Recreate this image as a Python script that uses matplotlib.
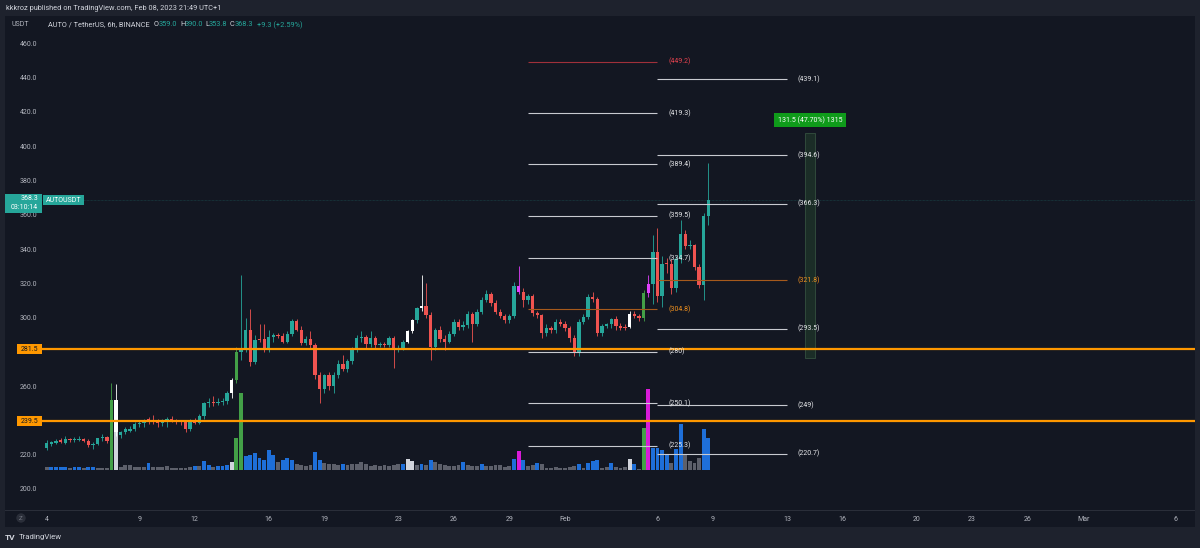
import numpy as np
import matplotlib
matplotlib.use("Agg")
from matplotlib import pyplot as plt
from matplotlib.patches import Rectangle

plt.rcParams['font.family'] = ['Roboto', 'DejaVu Sans']

# AUTO / USDT, 6h candles from Jan 4 2023 (day 4.0 = Jan 4 00:00, Feb 1 = day 32)
start_day = 4.0
step = 0.25

opens = [224.0, 226.0, 227.0, 228.5, 227.0, 229.0, 228.5, 228.8, 229.2, 228.0,
         225.5, 226.5, 229.5, 230.5, 228.0, 252.0, 231.5, 233.0, 234.0, 235.0,
         238.0, 238.5, 240.5, 240.5, 239.5, 238.5, 239.5, 241.0, 240.0, 239.5,
         239.0, 235.0, 240.0, 238.5, 242.5, 250.0, 250.5, 250.0, 251.0, 251.5,
         256.0, 263.5, 280.0, 282.0, 292.7, 274.0, 287.5, 287.5, 281.6, 288.5,
         290.0, 289.0, 286.0, 290.5, 298.0, 293.0, 285.0, 287.5, 284.0, 266.5,
         258.3, 266.5, 260.0, 266.5, 272.8, 270.0, 274.6, 281.0, 288.0, 288.5,
         284.5, 288.0, 284.0, 284.5, 284.0, 288.0, 281.6, 282.5, 285.7, 292.0,
         298.3, 305.5, 306.5, 301.5, 282.8, 293.0, 287.5, 286.0, 290.5, 297.5,
         294.5, 295.5, 302.0, 296.5, 303.0, 310.0, 313.5, 308.7, 303.5, 301.0,
         298.5, 301.0, 318.5, 315.0, 310.0, 312.5, 302.6, 301.5, 291.0, 294.0,
         292.5, 297.5, 296.5, 294.0, 288.0, 279.3, 297.5, 300.5, 312.0, 311.0,
         291.0, 295.0, 296.0, 299.3, 295.0, 294.0, 294.5, 302.0, 301.0, 300.0,
         314.6, 319.6, 338.0, 312.5, 331.5, 331.0, 317.0, 334.0, 349.0, 342.0,
         342.5, 329.5, 319.0, 359.0]
highs = [228.5, 228.0, 229.0, 230.0, 231.0, 230.0, 230.5, 231.0, 230.0, 229.0,
         227.5, 230.0, 232.0, 231.0, 262.0, 261.0, 234.0, 236.0, 236.5, 239.0,
         239.5, 241.0, 242.0, 243.0, 241.0, 241.0, 242.0, 242.5, 241.0, 240.5,
         240.0, 241.0, 241.5, 244.0, 251.0, 253.0, 254.0, 253.0, 253.0, 257.0,
         265.0, 283.0, 325.0, 300.0, 305.0, 290.0, 296.0, 296.0, 293.0, 291.0,
         291.0, 291.0, 292.0, 299.0, 299.0, 295.0, 289.0, 292.0, 285.0, 268.0,
         267.0, 268.0, 268.0, 275.0, 278.0, 276.0, 283.0, 290.0, 292.0, 290.0,
         292.0, 289.0, 286.0, 286.0, 289.0, 289.0, 284.0, 287.0, 293.0, 299.0,
         306.0, 325.0, 320.0, 303.0, 294.0, 295.0, 290.0, 292.0, 299.0, 299.0,
         298.0, 304.0, 303.0, 305.0, 312.0, 316.0, 315.0, 310.0, 305.0, 302.0,
         302.0, 321.0, 330.0, 317.0, 314.0, 314.0, 304.0, 302.0, 296.0, 295.0,
         299.0, 299.0, 298.0, 295.0, 290.0, 299.0, 302.0, 314.0, 315.0, 312.0,
         296.0, 297.0, 300.0, 301.0, 297.0, 296.0, 304.0, 304.0, 302.0, 316.0,
         325.0, 348.0, 352.0, 336.0, 335.0, 334.0, 336.0, 357.0, 351.0, 345.0,
         343.0, 331.0, 361.0, 390.0]
lows = [223.0, 225.0, 226.0, 227.0, 226.5, 227.5, 227.5, 228.0, 227.5, 224.5,
        223.5, 225.5, 228.0, 227.0, 227.0, 231.0, 230.0, 232.0, 233.0, 234.0,
        236.0, 236.0, 238.0, 238.0, 236.0, 237.0, 236.0, 239.0, 238.0, 237.5,
        233.5, 234.0, 238.0, 238.0, 241.0, 248.0, 248.5, 249.0, 249.0, 249.5,
        253.0, 262.0, 275.0, 280.0, 272.0, 273.0, 285.5, 280.0, 280.0, 286.0,
        288.0, 285.0, 285.0, 289.0, 292.0, 284.0, 284.0, 282.0, 264.0, 250.0,
        256.0, 258.0, 256.0, 265.0, 269.0, 268.0, 273.0, 280.0, 286.0, 282.0,
        283.0, 282.0, 283.0, 283.0, 283.0, 270.5, 280.0, 281.0, 285.0, 291.0,
        297.0, 304.0, 300.0, 275.0, 281.0, 286.0, 281.0, 285.0, 289.0, 293.0,
        293.0, 294.0, 285.7, 295.0, 302.0, 309.0, 307.0, 302.0, 300.0, 297.0,
        297.0, 300.0, 314.0, 306.0, 308.0, 301.0, 300.0, 288.0, 289.0, 291.0,
        291.0, 295.0, 292.0, 286.0, 277.5, 277.5, 296.0, 299.0, 309.0, 289.0,
        289.0, 294.0, 294.0, 293.0, 293.0, 293.0, 294.0, 300.0, 298.0, 298.0,
        312.0, 308.0, 309.0, 306.0, 326.0, 314.0, 315.0, 332.0, 340.0, 340.0,
        328.0, 317.0, 310.0, 353.8]
closes = [227.0, 227.5, 228.0, 227.5, 229.0, 228.5, 228.8, 229.2, 228.0, 225.5,
          226.5, 229.5, 230.5, 228.0, 252.0, 233.0, 233.0, 235.0, 235.0, 238.0,
          238.5, 240.5, 240.0, 239.0, 238.5, 240.0, 241.0, 240.0, 239.5, 239.0,
          235.0, 240.0, 238.5, 242.5, 250.0, 250.5, 250.0, 251.0, 251.5, 256.0,
          263.5, 280.0, 282.0, 292.7, 274.0, 287.0, 287.0, 281.6, 288.5, 290.0,
          289.0, 286.0, 290.5, 298.0, 293.0, 285.0, 287.5, 284.0, 266.5, 258.3,
          266.5, 260.0, 266.5, 272.8, 270.0, 274.6, 281.0, 288.0, 288.5, 284.5,
          288.0, 284.0, 284.5, 284.0, 288.0, 281.6, 282.5, 285.7, 292.0, 298.3,
          305.5, 306.5, 301.5, 282.8, 293.0, 287.5, 286.0, 290.5, 297.5, 294.5,
          295.5, 302.0, 296.5, 303.0, 310.0, 313.5, 308.7, 303.5, 301.0, 298.5,
          301.0, 318.5, 315.0, 310.0, 312.5, 302.6, 301.5, 291.0, 294.0, 292.5,
          297.5, 296.5, 294.0, 288.0, 279.3, 297.5, 300.5, 312.0, 311.0, 291.0,
          295.0, 296.0, 299.3, 295.0, 294.0, 294.5, 302.0, 301.0, 300.0, 314.6,
          319.6, 338.0, 312.5, 331.5, 331.0, 317.0, 334.0, 349.0, 342.0, 342.5,
          329.5, 319.0, 359.0, 368.3]
# candle colour codes: t teal, r red, w white, g green, m magenta
candle_codes = ['t', 't', 't', 'r', 't', 'r', 't', 't', 'r', 'r',
                't', 't', 't', 'r', 'g', 'w', 't', 't', 't', 't',
                't', 't', 'r', 'r', 'r', 't', 't', 'r', 'r', 'r',
                'r', 't', 'r', 't', 't', 't', 'r', 't', 't', 't',
                'w', 'g', 't', 't', 'r', 't', 'r', 'r', 't', 't',
                'r', 'r', 't', 't', 'r', 'r', 't', 'r', 'r', 'r',
                't', 'r', 't', 't', 'r', 't', 't', 't', 't', 'r',
                't', 'r', 't', 'r', 't', 'r', 't', 't', 'w', 'w',
                't', 'w', 'r', 'r', 't', 'r', 'r', 't', 't', 'r',
                't', 't', 'r', 't', 't', 't', 'r', 'r', 'r', 'r',
                't', 't', 'm', 'r', 't', 'r', 'r', 'r', 't', 'r',
                't', 'r', 'r', 'r', 'r', 't', 't', 't', 'r', 'r',
                't', 't', 't', 'r', 'r', 'r', 'w', 'r', 'r', 'g',
                'm', 't', 'r', 't', 'r', 'r', 't', 't', 'r', 't',
                'r', 'r', 't', 't']
volumes = [3, 3, 3, 3, 3, 2, 3, 3, 2, 3,
           3, 2, 2, 2, 70, 38, 3, 5, 5, 3,
           3, 3, 7, 3, 3, 3, 4, 2, 2, 2,
           2, 3, 4, 4, 9, 5, 3, 4, 4, 5,
           8, 32, 77, 14, 15, 17, 12, 10, 20, 15,
           8, 10, 12, 10, 6, 5, 4, 5, 18, 10,
           7, 6, 6, 5, 6, 5, 6, 6, 8, 6,
           4, 5, 4, 5, 4, 5, 6, 6, 11, 9,
           5, 6, 5, 10, 8, 6, 5, 4, 4, 5,
           8, 5, 4, 4, 6, 4, 4, 5, 5, 3,
           4, 11, 19, 10, 4, 5, 7, 6, 2, 2,
           3, 2, 2, 3, 4, 6, 2, 7, 9, 10,
           2, 3, 7, 3, 2, 3, 11, 6, 1, 42,
           81, 22, 22, 20, 15, 7, 21, 46, 15, 9,
           7, 12, 41, 32]
# volume colour codes: k grey, b blue, g green, m magenta, w light
volume_codes = ['k', 'b', 'b', 'b', 'b', 'k', 'b', 'b', 'k', 'b',
                'b', 'k', 'k', 'k', 'g', 'w', 'k', 'k', 'k', 'k',
                'k', 'k', 'b', 'k', 'k', 'k', 'k', 'k', 'k', 'k',
                'k', 'k', 'b', 'k', 'b', 'b', 'k', 'b', 'b', 'b',
                'w', 'g', 'g', 'b', 'b', 'b', 'b', 'b', 'b', 'b',
                'k', 'b', 'b', 'b', 'k', 'k', 'k', 'k', 'b', 'b',
                'k', 'k', 'k', 'k', 'b', 'k', 'k', 'k', 'k', 'k',
                'k', 'k', 'k', 'k', 'k', 'k', 'k', 'b', 'w', 'w',
                'k', 'b', 'k', 'b', 'k', 'k', 'k', 'k', 'k', 'k',
                'b', 'k', 'k', 'k', 'b', 'k', 'k', 'k', 'k', 'k',
                'k', 'b', 'm', 'b', 'k', 'k', 'b', 'k', 'k', 'k',
                'k', 'k', 'k', 'k', 'k', 'b', 'k', 'b', 'b', 'b',
                'k', 'k', 'b', 'k', 'k', 'k', 'w', 'b', 'k', 'g',
                'm', 'b', 'b', 'b', 'b', 'k', 'b', 'b', 'k', 'k',
                'k', 'k', 'b', 'b']

# drawing levels (two fib-style tools)
left_levels = [449.2, 419.3, 389.4, 359.5, 334.7, 304.8, 280.0, 250.1, 225.3]
left_labels = ["(449.2)", "(419.3)", "(389.4)", "(359.5)", "(334.7)", "(304.8)", "(280)", "(250.1)", "(225.3)"]
right_levels = [439.1, 394.6, 366.3, 321.8, 293.5, 249.0, 220.7]
right_labels = ["(439.1)", "(394.6)", "(366.3)", "(321.8)", "(293.5)", "(249)", "(220.7)"]
support_levels = [281.5, 239.5]
last_price = 368.3
range_low, range_high = 276.4, 407.9

price_ticks = [200, 220, 240, 260, 280, 300, 320, 340, 360, 380, 400, 420, 440, 460]
price_tick_labels = ['200.0', '220.0', '', '260.0', '', '300.0', '320.0', '340.0', '360.0',
                     '380.0', '400.0', '420.0', '440.0', '460.0']
tick_days = [4, 9, 12, 16, 19, 23, 26, 29, 32, 37, 40, 44, 47, 51, 54, 57, 60, 65]
tick_labels = ['4', '9', '12', '16', '19', '23', '26', '29', 'Feb', '6', '9', '13', '16', '20', '23', '26', 'Mar', '6']

W, H = 1200, 548
BG = '#131722'
TXT = '#b2b5be'
candle_colors = {'t': '#26a69a', 'r': '#ef5350', 'w': '#ffffff', 'g': '#43a047', 'm': '#e040fb'}
vol_colors = {'k': '#5d606b', 'b': '#1e6fd9', 'g': '#43a047', 'm': '#d81bd8', 'w': '#d1d4dc'}


def rect(x0, y0, x1, y1):
    return [x0 / W, 1 - y1 / H, (x1 - x0) / W, (y1 - y0) / H]


def fig_box(x0, y0, x1, y1, color, z=3):
    fig.add_artist(Rectangle((x0 / W, 1 - y1 / H), (x1 - x0) / W, (y1 - y0) / H,
                             transform=fig.transFigure, facecolor=color, edgecolor='none', zorder=z))


def fig_text(x, y, s, color, size=5.0, ha='left', **kw):
    fig.text(x / W, 1 - y / H, s, color=color, fontsize=size, ha=ha, va='center', zorder=5, **kw)


fig = plt.figure(figsize=(12, 5.48), dpi=100)
fig.patch.set_facecolor('#1e222d')
fig_box(5, 16, 1195, 527, BG, z=-2)
fig_box(5, 509.5, 1195, 510.5, '#2a2e39', z=-1)

xlim = (3.746, 66.04)
n = len(closes)
days = start_day + step * np.arange(n)

# volume overlay (base sits above the time axis)
axv = fig.add_axes(rect(42, 17, 1195, 470))
axv.set_facecolor('none')
axv.set_xlim(xlim)
axv.set_ylim(0, 453)
axv.axis('off')
axv.bar(days, volumes, width=0.21, color=[vol_colors[c] for c in volume_codes], linewidth=0)

# price pane
ax = fig.add_axes(rect(42, 17, 1195, 509))
ax.set_facecolor('none')
ax.set_xlim(xlim)
ax.set_ylim(188.33, 475.34)
for s in ax.spines.values():
    s.set_visible(False)
ax.set_yticks(price_ticks)
ax.set_yticklabels(price_tick_labels)
ax.set_xticks(tick_days)
ax.set_xticklabels(tick_labels)
ax.tick_params(colors=TXT, labelsize=5.0, length=0)
ax.tick_params(axis='y', pad=3.5)
ax.tick_params(axis='x', pad=5.0)

cols = [candle_colors[c] for c in candle_codes]
ax.vlines(days, lows, highs, colors=cols, linewidth=0.6, zorder=3)
bottoms = [min(o, c) for o, c in zip(opens, closes)]
heights = [max(abs(c - o), 0.6) for o, c in zip(opens, closes)]
ax.bar(days, heights, bottom=bottoms, width=0.18, color=cols, linewidth=0, zorder=4)

# support lines
for lv in support_levels:
    ax.axhline(lv, color='#ff9800', linewidth=1.6, zorder=6)
ax.axhline(last_price, color='#26a69a', linewidth=0.5, alpha=0.35, linestyle=(0, (1, 1)), zorder=2)

# fib-style levels
for lv, lb in zip(left_levels, left_labels):
    if lv == 449.2:
        lc, tc = '#a0303a', '#e8434f'
    elif lv == 304.8:
        lc, tc = '#a65a1c', '#f0901e'
    else:
        lc, tc = '#c8cad0', '#e6e7ea'
    ax.hlines(lv, 30.0, 36.97, colors=lc, linewidth=0.8, zorder=5)
    ax.text(37.57, lv, lb, color=tc, fontsize=5.0, va='center', ha='left', zorder=7)
for lv, lb in zip(right_levels, right_labels):
    if lv == 321.8:
        lc, tc = '#a65a1c', '#f0901e'
    else:
        lc, tc = '#c8cad0', '#e6e7ea'
    ax.hlines(lv, 36.97, 44.0, colors=lc, linewidth=0.8, zorder=5)
    ax.text(44.54, lv, lb, color=tc, fontsize=5.0, va='center', ha='left', zorder=7)

# price range measurement
ax.add_patch(Rectangle((44.99, range_low), 0.5, range_high - range_low,
                       facecolor='#1b2d27', edgecolor='#34503f', linewidth=0.6, zorder=5))
fig_box(774, 113, 846, 127, '#0f9b1a', z=4)
fig_text(810, 120, '131.5 (47.70%) 1315', '#ffffff', ha='center')

# header texts
fig_text(6, 8, 'kkkroz published on TradingView.com, Feb 08, 2023 21:49 UTC+1', '#d1d4dc', size=5.3)
fig_text(12, 24, 'USDT', TXT)
fig_text(48, 25, 'AUTO / TetherUS, 6h, BINANCE', '#d1d4dc', size=5.3)
for x, s, c in [(154, 'O', '#d1d4dc'), (159, '359.0', '#26a69a'), (180, 'H', '#d1d4dc'),
                (185, '390.0', '#26a69a'), (205, 'L', '#d1d4dc'), (209, '353.8', '#26a69a'),
                (230, 'C', '#d1d4dc'), (235, '368.3', '#26a69a'), (257, '+9.3 (+2.59%)', '#26a69a')]:
    fig_text(x, 25, s, c, size=5.3)

# price axis labels
fig_box(5, 194, 42, 213, '#26a69a')
fig_text(38, 199, '368.3', '#ffffff', ha='right')
fig_text(38, 207.5, '03:10:14', '#ffffff', ha='right')
fig_box(43, 195, 84, 205, '#26a69a')
fig_text(63.5, 200, 'AUTOUSDT', '#ffffff', ha='center')
for lv in support_levels:
    yy = 43.3 + (460 - lv) * 1.7142
    fig_box(17, yy - 5, 42, yy + 5, '#ff9800')
    fig_text(38, yy, '%.1f' % lv, '#131722', ha='right')

# bottom decorations
fig.text(21 / W, 1 - 518 / H, 'Z', color='#787b86', fontsize=4.5, ha='center', va='center',
         bbox=dict(boxstyle='circle,pad=0.35', fc='#2a2e39', ec='none'))
fig_text(5, 537, 'TV', '#d1d4dc', size=6, weight='bold')
fig_text(19, 537, 'TradingView', '#d1d4dc', size=5.6)

fig.savefig('out.png', dpi=100, facecolor=fig.get_facecolor())
